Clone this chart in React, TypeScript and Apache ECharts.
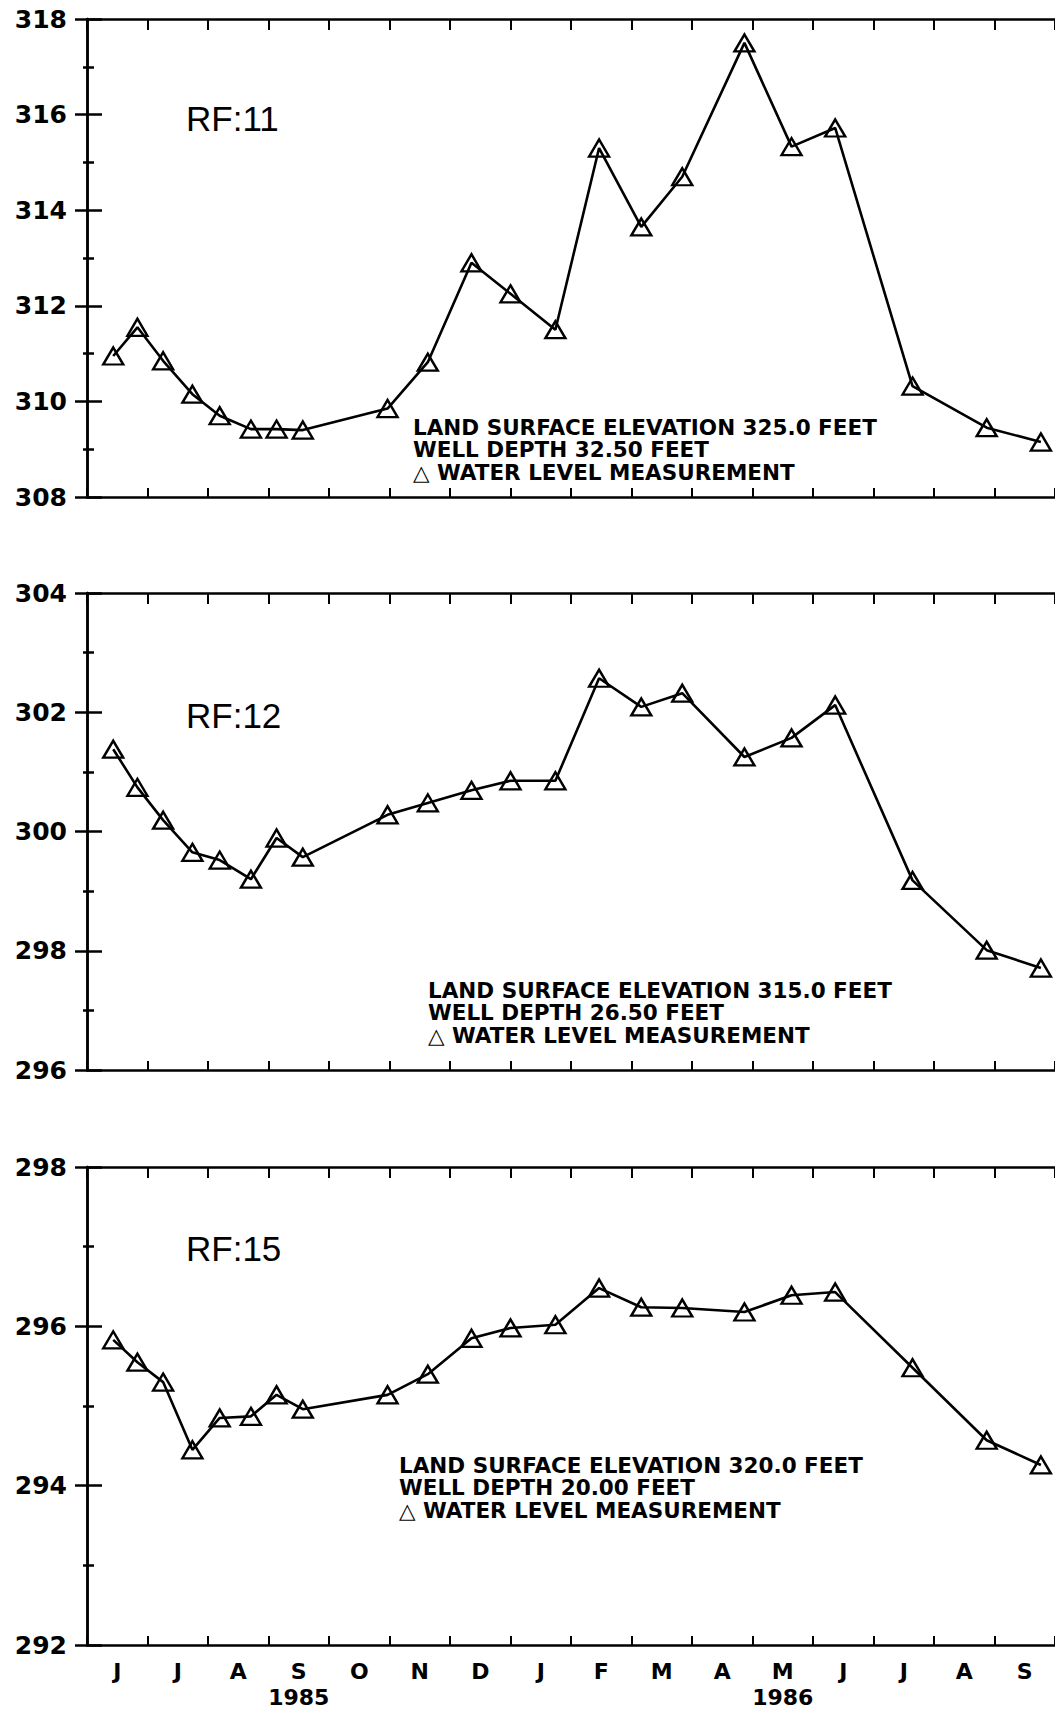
import React, { useEffect, useRef } from "react";
import * as echarts from "echarts";

// Measurement dates (same for all three wells)
const measurementDates = [
  "1985-06-14", "1985-06-26", "1985-07-09", "1985-07-24", "1985-08-07", "1985-08-23",
  "1985-09-05", "1985-09-18", "1985-10-31", "1985-11-20", "1985-12-12", "1986-01-01",
  "1986-01-24", "1986-02-14", "1986-03-06", "1986-03-27", "1986-04-27", "1986-05-21",
  "1986-06-12", "1986-07-21", "1986-08-28", "1986-09-24",
];

// Water level elevations (feet)
const rf11 = [310.95, 311.55, 310.85, 310.15, 309.7, 309.42, 309.42, 309.4, 309.85, 310.82, 312.9, 312.25,
  311.5, 315.3, 313.65, 314.7, 317.5, 315.33, 315.72, 310.32, 309.45, 309.15];
const rf12 = [301.38, 300.74, 300.19, 299.65, 299.52, 299.2, 299.89, 299.57, 300.28, 300.48, 300.69, 300.85,
  300.85, 302.57, 302.09, 302.32, 301.25, 301.57, 302.12, 299.18, 298.01, 297.71];
const rf15 = [295.83, 295.55, 295.3, 294.45, 294.85, 294.87, 295.14, 294.96, 295.14, 295.4, 295.85, 295.98,
  296.02, 296.48, 296.24, 296.23, 296.18, 296.39, 296.43, 295.48, 294.57, 294.26];

const monthLabels = ["J", "J", "A", "S", "O", "N", "D", "J", "F", "M", "A", "M", "J", "J", "A", "S"];
const yearLabels = ["", "", "", "1985", "", "", "", "", "", "", "", "1986", "", "", "", ""];

const wellNames = ["RF:11", "RF:12", "RF:15"];
const yRanges = [[308, 318], [296, 304], [292, 298]];
const landSurface = ["325.0", "315.0", "320.0"];
const wellDepth = ["32.50", "26.50", "20.00"];

function monthsSinceStart(d: string): number {
  const [y, m, day] = d.split("-").map(Number);
  const dim = new Date(y, m, 0).getDate();
  return (y - 1985) * 12 + (m - 6) + (day - 1) / dim;
}

export default function App() {
  const ref = useRef<HTMLDivElement>(null);
  useEffect(() => {
    if (!ref.current) return;
    const chart = echarts.init(ref.current, null, { renderer: "svg" });
    const xs = measurementDates.map(monthsSinceStart);
    const seriesValues = [rf11, rf12, rf15];

    const grids = [
      { left: 87, right: 0, top: 19, height: 478 },
      { left: 87, right: 0, top: 593, height: 477 },
      { left: 87, right: 0, top: 1167, height: 478 },
    ];
    const black = "#000";
    const xAxes: any[] = [];
    const yAxes: any[] = [];
    grids.forEach((_, i) => {
      ["bottom", "top"].forEach((pos) => {
        xAxes.push({
          type: "value", gridIndex: i, position: pos, min: 0, max: 16, interval: 1,
          axisLine: { show: true, lineStyle: { color: black, width: 2.5 } },
          axisTick: { show: true, inside: true, length: pos === "top" ? 11 : 9, lineStyle: { color: black, width: 2 } },
          axisLabel: { show: false }, splitLine: { show: false },
        });
      });
      ["left", "right"].forEach((pos) => {
        yAxes.push({
          type: "value", gridIndex: i, position: pos, min: yRanges[i][0], max: yRanges[i][1], interval: 2,
          axisLine: { show: true, lineStyle: { color: black, width: 2.5 } },
          axisTick: { show: true, inside: true, length: pos === "left" ? 15 : 12, lineStyle: { color: black, width: 2.5 } },
          minorTick: { show: true, splitNumber: 2, length: pos === "left" ? 7 : 4, lineStyle: { color: black, width: 2.5 } },
          axisLabel: {
            show: pos === "left", color: black, fontSize: 25, fontWeight: "bold",
            fontFamily: "DejaVu Sans", margin: 20,
          },
          splitLine: { show: false }, minorSplitLine: { show: false },
        });
      });
    });
    xAxes.push({
      type: "category", gridIndex: 2, position: "bottom", data: monthLabels, boundaryGap: true,
      axisLine: { show: false }, axisTick: { show: false }, splitLine: { show: false },
      axisLabel: {
        interval: 0, color: black, fontSize: 22, fontWeight: "bold", fontFamily: "DejaVu Sans",
        margin: 13, lineHeight: 26,
        formatter: (v: string, idx: number) => (yearLabels[idx] ? `${v}\n${yearLabels[idx]}` : v),
      },
    });

    const titleTops = [98, 695, 1228];
    const noteLeft = [413, 428, 399];
    const noteTop = [416, 979, 1454];
    const titles: any[] = [];
    wellNames.forEach((n, i) => {
      titles.push({
        text: n, left: 186, top: titleTops[i], padding: 0,
        textStyle: { fontFamily: "Liberation Sans", fontWeight: "normal", fontSize: 35, lineHeight: 40, color: black },
      });
      titles.push({
        text: `LAND SURFACE ELEVATION ${landSurface[i]} FEET\nWELL DEPTH ${wellDepth[i]} FEET\n△ WATER LEVEL MEASUREMENT`,
        left: noteLeft[i], top: noteTop[i], padding: 0,
        textStyle: { fontFamily: "DejaVu Sans", fontWeight: "bold", fontSize: 21.5, lineHeight: 22.5, color: black },
      });
    });

    const series = seriesValues.map((vals, i) => ({
      type: "line", name: wellNames[i], xAxisIndex: i * 2, yAxisIndex: i * 2,
      data: vals.map((v, k) => [xs[k], v]),
      symbol: "triangle", symbolSize: [20, 17],
      lineStyle: { color: black, width: 2.6 },
      itemStyle: { color: "rgba(0,0,0,0)", borderColor: black, borderWidth: 2.4 },
      clip: false,
    }));

    chart.setOption({
      animation: false,
      backgroundColor: "#fff",
      title: titles,
      grid: grids,
      xAxis: xAxes,
      yAxis: yAxes,
      series,
    });
    return () => chart.dispose();
  }, []);
  return (
    <div
      ref={ref}
      style={{ position: "absolute", left: 0, top: 0, width: 1055, height: 1711 }}
    />
  );
}
